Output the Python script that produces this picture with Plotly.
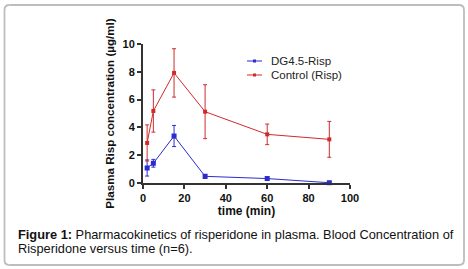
import plotly.graph_objects as go

time_min = [2, 5, 15, 30, 60, 90]
dg_mean = [1.08, 1.42, 3.38, 0.48, 0.32, 0.02]
dg_err = [0.58, 0.28, 0.76, 0.14, 0.10, 0.04]
ctrl_mean = [2.88, 5.18, 7.92, 5.13, 3.50, 3.14]
ctrl_err = [1.30, 1.52, 1.74, 1.94, 0.74, 1.29]
x_ticks = [0, 20, 40, 60, 80, 100]
y_ticks = [0, 2, 4, 6, 8, 10]

BLUE = "#2b2bd0"
RED = "#d02b2b"
W, H = 468, 269
L, R, T, B = 143, 350, 44, 183

def px(x):
    return (x - L) / (R - L)

def py(y):
    return (B - y) / (B - T)

fig = go.Figure()
fig.add_trace(go.Scatter(
    x=time_min, y=dg_mean, mode="lines+markers", name="DG4.5-Risp",
    line=dict(color=BLUE, width=1), marker=dict(symbol="square", size=5, color=BLUE),
    error_y=dict(type="data", array=dg_err, color=BLUE, thickness=1, width=2),
    cliponaxis=False))
fig.add_trace(go.Scatter(
    x=time_min, y=ctrl_mean, mode="lines+markers", name="Control (Risp)",
    line=dict(color=RED, width=1), marker=dict(symbol="square", size=4, color=RED),
    error_y=dict(type="data", array=ctrl_err, color=RED, thickness=1, width=2),
    cliponaxis=False))

axis_common = dict(showgrid=False, zeroline=False, showline=True, linecolor="#333",
                   linewidth=2, ticks="outside", ticklen=4, tickwidth=1.5, tickcolor="#333",
                   tickfont=dict(family="Liberation Sans, Arial", size=11, color="#111"))
fig.update_xaxes(range=[0, 100], tickvals=x_ticks, ticktext=[f"<b>{v}</b>" for v in x_ticks],
                 title=dict(text="<b>time (min)</b>", standoff=2,
                            font=dict(family="Liberation Sans, Arial", size=12, color="#111")),
                 **axis_common)
fig.update_yaxes(range=[0, 10], tickvals=y_ticks, ticktext=[f"<b>{v}</b>" for v in y_ticks],
                 title=dict(text="<b>Plasma Risp concentration (µg/ml)</b>", standoff=5,
                            font=dict(family="Liberation Sans, Arial", size=11.6, color="#111")),
                 **axis_common)

shapes = []
# rounded frame drawn as lines + corner arcs
x0, y0, x1, y1, r = 4.5, 5, 464, 265, 5
frame_line = dict(color="#bdbdbd", width=1.8)
segs = [(x0 + r, y0, x1 - r, y0), (x1, y0 + r, x1, y1 - r),
        (x1 - r, y1, x0 + r, y1), (x0, y1 - r, x0, y0 + r)]
for a, b, c, d in segs:
    shapes.append(dict(type="line", xref="paper", yref="paper", x0=px(a), y0=py(b),
                       x1=px(c), y1=py(d), line=frame_line, layer="above"))
corners = [((x1 - r, y0), (x1, y0), (x1, y0 + r)), ((x1, y1 - r), (x1, y1), (x1 - r, y1)),
           ((x0 + r, y1), (x0, y1), (x0, y1 - r)), ((x0, y0 + r), (x0, y0), (x0 + r, y0))]
for p0, pc, p1 in corners:
    path = (f"M{px(p0[0])},{py(p0[1])} Q{px(pc[0])},{py(pc[1])} {px(p1[0])},{py(p1[1])}")
    shapes.append(dict(type="path", xref="paper", yref="paper", path=path,
                       line=frame_line, layer="above"))

# legend
legend_items = [("DG4.5-Risp", BLUE, 61), ("Control (Risp)", RED, 75)]
annotations = []
for name, col, yy in legend_items:
    shapes.append(dict(type="line", xref="paper", yref="paper", x0=px(247), x1=px(262),
                       y0=py(yy), y1=py(yy), line=dict(color=col, width=1)))
    shapes.append(dict(type="rect", xref="paper", yref="paper", x0=px(253), x1=px(256),
                       y0=py(yy - 1.5), y1=py(yy + 1.5), line=dict(width=0), fillcolor=col))
    annotations.append(dict(xref="paper", yref="paper", x=px(269), y=py(yy), text=name,
                            showarrow=False, xanchor="left", yanchor="middle",
                            font=dict(family="Liberation Sans, Arial", size=11.5, color="#222")))

cap_font = dict(family="Liberation Sans, Arial", size=12.8, color="#111")
annotations.append(dict(xref="paper", yref="paper", x=px(16), y=py(234),
                        text="<b>Figure 1:</b> Pharmacokinetics of risperidone in plasma. Blood Concentration of",
                        showarrow=False, xanchor="left", yanchor="middle", font=cap_font))
annotations.append(dict(xref="paper", yref="paper", x=px(16), y=py(248),
                        text="Risperidone versus time (n=6).",
                        showarrow=False, xanchor="left", yanchor="middle", font=cap_font))

fig.update_layout(width=W, height=H, margin=dict(l=L, r=W - R, t=T, b=H - B),
                  paper_bgcolor="white", plot_bgcolor="white", showlegend=False,
                  shapes=shapes, annotations=annotations)
fig.write_html("out.html", config={"displayModeBar": False},
               post_script="document.body.style.margin='0';document.body.style.overflow='hidden';")
